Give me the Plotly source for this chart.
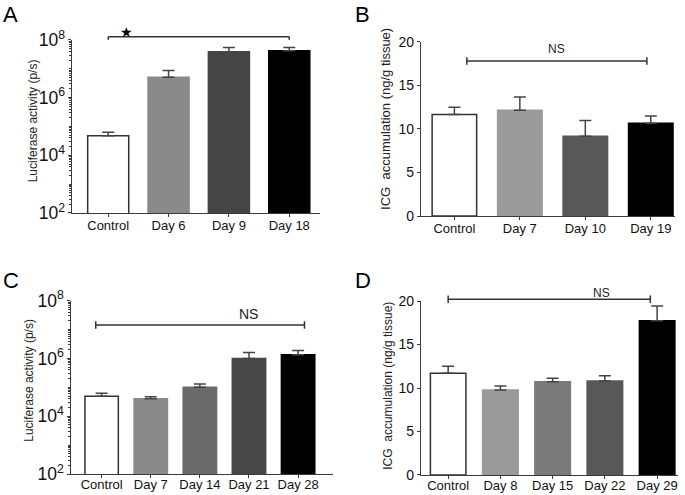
import plotly.graph_objects as go

# ---- data ----
A_cats = ["Control", "Day 6", "Day 9", "Day 18"]
A_vals = [4.8e4, 5.1e6, 3.9e7, 4.2e7]
A_err = [1.5e4, 3.6e6, 1.6e7, 1.3e7]
A_colors = ["#ffffff", "#8a8a8a", "#454545", "#000000"]

B_cats = ["Control", "Day 7", "Day 10", "Day 19"]
B_vals = [11.66, 12.12, 9.14, 10.63]
B_err = [0.81, 1.53, 1.83, 0.84]
B_colors = ["#ffffff", "#9a9a9a", "#585858", "#000000"]

C_cats = ["Control", "Day 7", "Day 14", "Day 21", "Day 28"]
C_vals = [4.9e4, 4.0e4, 1.0e5, 1.0e6, 1.35e6]
C_err = [1.3e4, 0.7e4, 0.3e5, 0.6e6, 0.55e6]
C_colors = ["#ffffff", "#8a8a8a", "#6a6a6a", "#474747", "#000000"]

D_cats = ["Control", "Day 8", "Day 15", "Day 22", "Day 29"]
D_vals = [11.69, 9.77, 10.73, 10.80, 17.74]
D_err = [0.80, 0.46, 0.38, 0.62, 1.69]
D_colors = ["#ffffff", "#9a9a9a", "#7a7a7a", "#585858", "#000000"]

LUC_TITLE = "Luciferase activity (p/s)"
ICG_TITLE = "ICG  accumulation (ng/g tissue)"

panels = [
    dict(cats=A_cats, vals=A_vals, err=A_err, colors=A_colors, log=True,
         xd=[0.1051, 0.4672], yd=[0.5697, 0.9192], xr=[-0.6, 3.51],
         title=LUC_TITLE, tx=33, ty=0.53, ts=12, lso=-3),
    dict(cats=B_cats, vals=B_vals, err=B_err, colors=B_colors, log=False,
         xd=[0.6146, 0.9854], yd=[0.5636, 0.9158], xr=[-0.51, 3.37],
         title=ICG_TITLE, tx=386, ty=0.557, ts=13, lso=-3),
    dict(cats=C_cats, vals=C_vals, err=C_err, colors=C_colors, log=True,
         xd=[0.1032, 0.4861], yd=[0.0424, 0.3925], xr=[-0.63, 4.71],
         title=LUC_TITLE, tx=29, ty=0.538, ts=12, lso=-5),
    dict(cats=D_cats, vals=D_vals, err=D_err, colors=D_colors, log=False,
         xd=[0.6146, 0.9898], yd=[0.0404, 0.3919], xr=[-0.52, 4.4],
         title=ICG_TITLE, tx=388, ty=0.513, ts=12, lso=-5),
]

FONT = "Liberation Sans, Arial, sans-serif"
AX = "#3a3a3a"
W, H = 685, 495

fig = go.Figure()
layout = {}
annotations = []
for i, p in enumerate(panels):
    n = "" if i == 0 else str(i + 1)
    xa, ya = "x" + n, "y" + n
    line_colors = ["#333333" if c == "#ffffff" else c for c in p["colors"]]
    fig.add_trace(go.Bar(
        x=list(range(len(p["cats"]))), y=p["vals"], width=0.68,
        marker=dict(color=p["colors"], line=dict(color=line_colors, width=1.5)),
        error_y=dict(type="data", symmetric=False, array=p["err"],
                     arrayminus=[0] * len(p["err"]), color="#444444",
                     thickness=1.5, width=6),
        xaxis=xa, yaxis=ya, showlegend=False, hoverinfo="skip",
    ))
    xaxis = dict(domain=p["xd"], anchor=ya, range=p["xr"], automargin=False,
                 tickmode="array", tickvals=list(range(len(p["cats"]))),
                 ticktext=p["cats"], showline=True, linecolor=AX, linewidth=1.2,
                 ticks="outside", ticklen=3, tickcolor=AX, showgrid=False,
                 ticklabelstandoff=p["lso"],
                 zeroline=False, tickfont=dict(size=13, color="#111"))
    if p["log"]:
        yaxis = dict(domain=p["yd"], anchor=xa, type="log", range=[2, 8],
                     tick0=0, dtick=2, exponentformat="power", showexponent="all",
                     tickfont=dict(size=14, color="#111"),
                     minor=dict(ticks="outside", ticklen=2, tickcolor=AX, dtick="D1", showgrid=False))
    else:
        yaxis = dict(domain=p["yd"], anchor=xa, range=[0, 20], dtick=5,
                     tickfont=dict(size=14, color="#111"))
    yaxis.update(showline=True, linecolor=AX, linewidth=1.2, ticks="outside",
                 ticklen=3, tickcolor=AX, showgrid=False, zeroline=False, automargin=False)
    layout["xaxis" + n] = xaxis
    layout["yaxis" + n] = yaxis
    annotations.append(dict(text=p["title"], xref="paper", yref=ya + " domain",
                            x=p["tx"] / W, y=p["ty"], textangle=-90, showarrow=False,
                            xanchor="center", yanchor="middle",
                            font=dict(size=p["ts"], color="#222")))

fig.update_layout(**layout)

shapes = []

def bracket(n, x0, x1, y, down_only=False, cap=0.022):
    xr = "x" + n
    yr = ("y" + n) + " domain"
    s = [dict(type="line", xref=xr, yref=yr, x0=x0, x1=x1, y0=y, y1=y)]
    if down_only:
        for xx in (x0, x1):
            s.append(dict(type="line", xref=xr, yref=yr, x0=xx, x1=xx, y0=y, y1=y - cap))
    else:
        for xx in (x0, x1):
            s.append(dict(type="line", xref=xr, yref=yr, x0=xx, x1=xx, y0=y - cap, y1=y + cap))
    for d in s:
        d["line"] = dict(color="#333333", width=1.5)
    return s

shapes += bracket("", 0, 3, 1.019, down_only=True, cap=0.018)
shapes += bracket("2", 0.19, 2.94, 0.889)
shapes += bracket("3", -0.12, 4.13, 0.86)
shapes += bracket("4", 0, 3.87, 1.01)

annotations.append(dict(text="★", xref="x", yref="y domain", x=0.31, y=1.105,
                        showarrow=False, font=dict(size=14, color="#000")))
annotations.append(dict(text="NS", xref="x2", yref="y2 domain", x=1.56, y=1.01,
                        showarrow=False, font=dict(size=12, color="#222")))
annotations.append(dict(text="NS", xref="x3", yref="y3 domain", x=3.0, y=0.98,
                        showarrow=False, font=dict(size=14, color="#222")))
annotations.append(dict(text="NS", xref="x4", yref="y4 domain", x=2.94, y=1.095,
                        showarrow=False, font=dict(size=12, color="#222")))

for letter, x, y in [("A", 0.002, 1.0), ("B", 0.515, 1.0), ("C", 0.002, 0.463), ("D", 0.515, 0.463)]:
    annotations.append(dict(text=letter, xref="paper", yref="paper", x=x, y=y,
                            xanchor="left", yanchor="top", showarrow=False,
                            font=dict(size=22, color="#000")))

fig.update_layout(
    width=W, height=H, margin=dict(l=0, r=0, t=0, b=0, autoexpand=False),
    paper_bgcolor="white", plot_bgcolor="white",
    font=dict(family=FONT, color="#111"),
    shapes=shapes, annotations=annotations, bargap=0.3,
)
fig.write_html("out.html", config={"displayModeBar": False},
               post_script="document.body.style.margin='0';document.body.style.overflow='hidden';")
